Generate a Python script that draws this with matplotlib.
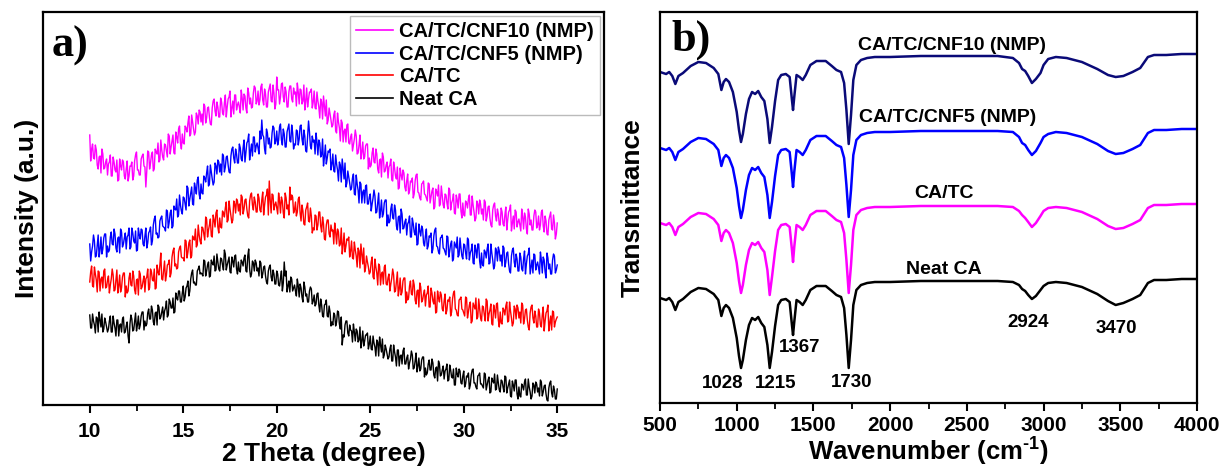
import numpy as np
import matplotlib
matplotlib.use("Agg")
import matplotlib.pyplot as plt

plt.rcParams['font.family'] = ['Liberation Sans', 'DejaVu Sans']
plt.rcParams['font.weight'] = 'bold'
plt.rcParams['mathtext.fontset'] = 'custom'
plt.rcParams['mathtext.rm'] = 'Liberation Sans:bold'
plt.rcParams['mathtext.it'] = 'Liberation Sans:bold'
plt.rcParams['mathtext.bf'] = 'Liberation Sans:bold'
plt.rcParams['mathtext.default'] = 'regular'

# ---------------- XRD data (panel a), 2-theta scan 10-35 deg, step 0.05 ----------------
theta_start, theta_end = 10, 35

xrd_neat = [
    90, 77, 77, 91, 84, 80, 72, 88, 87, 73, 93, 85, 78, 91, 73, 76, 87, 83, 78, 73,
    76, 84, 89, 73, 73, 89, 82, 77, 69, 85, 85, 69, 80, 81, 73, 86, 88, 72, 73, 79,
    83, 69, 62, 81, 90, 86, 74, 75, 84, 92, 74, 80, 89, 76, 80, 89, 93, 93, 75, 84,
    79, 81, 92, 96, 86, 86, 99, 95, 83, 80, 92, 93, 80, 100, 98, 86, 88, 93, 98, 85,
    94, 97, 104, 88, 90, 106, 103, 97, 97, 107, 92, 93, 112, 107, 105, 114, 114, 103, 103, 112,
    119, 104, 108, 117, 119, 124, 109, 114, 126, 132, 135, 122, 123, 120, 120, 134, 136, 139, 131, 132,
    131, 129, 145, 144, 129, 134, 140, 143, 128, 129, 145, 142, 140, 149, 134, 135, 151, 143, 136, 134,
    147, 146, 140, 135, 155, 151, 135, 140, 144, 148, 133, 132, 148, 144, 138, 149, 150, 136, 131, 143,
    134, 133, 145, 143, 139, 147, 150, 134, 133, 149, 156, 136, 128, 131, 144, 142, 134, 145, 142, 134,
    137, 129, 144, 142, 127, 131, 138, 139, 129, 123, 121, 134, 138, 140, 128, 124, 135, 131, 121, 121,
    134, 131, 120, 119, 127, 134, 114, 122, 143, 129, 134, 113, 119, 124, 113, 128, 126, 114, 117, 120,
    114, 109, 126, 119, 108, 121, 117, 108, 103, 123, 118, 109, 111, 103, 103, 114, 118, 116, 101, 104,
    110, 99, 101, 111, 112, 100, 93, 106, 100, 89, 88, 100, 101, 105, 89, 88, 99, 93, 79, 83,
    80, 92, 90, 79, 83, 94, 93, 81, 76, 88, 60, 70, 68, 80, 84, 84, 72, 69, 80, 75,
    74, 63, 81, 73, 64, 76, 74, 63, 65, 78, 57, 64, 74, 59, 64, 70, 70, 72, 56, 61,
    69, 56, 55, 69, 62, 58, 49, 65, 63, 49, 68, 60, 53, 66, 47, 50, 60, 56, 51, 46,
    48, 56, 60, 44, 44, 60, 53, 48, 39, 55, 55, 39, 49, 50, 41, 54, 57, 41, 41, 47,
    50, 36, 42, 46, 54, 50, 36, 37, 44, 52, 33, 39, 47, 34, 36, 45, 48, 48, 28, 37,
    30, 32, 41, 45, 35, 35, 46, 42, 30, 27, 37, 38, 24, 44, 41, 29, 30, 35, 39, 26,
    34, 36, 41, 24, 25, 40, 35, 28, 27, 36, 20, 20, 37, 31, 28, 36, 34, 22, 21, 29,
    34, 18, 21, 29, 28, 32, 16, 20, 30, 35, 36, 22, 22, 18, 16, 29, 30, 32, 21, 21,
    19, 17, 32, 31, 15, 20, 25, 28, 12, 13, 27, 24, 22, 31, 15, 16, 30, 22, 15, 13,
    25, 24, 18, 13, 29, 28, 12, 17, 21, 25, 9, 8, 24, 20, 14, 25, 25, 11, 6, 18,
    9, 8, 21, 19, 15, 23, 26, 10, 10, 26, 18, 13, 6, 9, 22, 20, 12, 23, 21, 13,
    17, 9, 25, 23, 9, 13, 19, 20, 11, 5, 4, 17, 22, 24, 12, 8, 19, 15, 6, 6,
    16]

xrd_catc = [
    123, 133, 139, 119, 118, 138, 131, 125, 113, 134, 133, 114, 126, 128, 117, 134, 136, 117, 118, 125,
    129, 112, 120, 126, 136, 130, 114, 115, 125, 135, 112, 119, 130, 113, 117, 128, 132, 132, 108, 119,
    112, 114, 127, 132, 120, 119, 134, 129, 115, 111, 125, 126, 110, 134, 131, 116, 118, 124, 129, 113,
    126, 128, 136, 115, 117, 136, 133, 125, 124, 136, 116, 117, 140, 133, 130, 140, 152, 126, 125, 135,
    144, 124, 130, 140, 141, 145, 128, 132, 148, 154, 157, 139, 141, 136, 137, 153, 157, 159, 148, 147,
    147, 144, 165, 164, 147, 153, 162, 165, 147, 149, 169, 166, 165, 176, 158, 160, 180, 170, 164, 161,
    178, 177, 171, 165, 188, 186, 168, 175, 180, 186, 169, 168, 190, 185, 178, 192, 195, 178, 172, 187,
    178, 177, 194, 192, 188, 197, 203, 183, 185, 204, 196, 189, 182, 185, 204, 201, 192, 206, 204, 194,
    201, 190, 210, 208, 191, 196, 205, 206, 196, 189, 187, 204, 210, 212, 200, 195, 208, 203, 193, 193,
    211, 207, 195, 193, 205, 213, 190, 200, 208, 210, 216, 190, 224, 205, 192, 211, 210, 195, 200, 203,
    197, 191, 212, 204, 192, 208, 204, 192, 187, 212, 207, 196, 200, 190, 218, 205, 210, 208, 192, 195,
    203, 189, 193, 206, 208, 192, 184, 200, 194, 181, 180, 195, 198, 202, 184, 183, 197, 189, 172, 177,
    175, 190, 189, 175, 180, 193, 193, 179, 173, 188, 181, 166, 165, 180, 185, 185, 171, 168, 180, 174,
    175, 161, 182, 173, 161, 176, 173, 159, 161, 177, 151, 160, 172, 153, 159, 166, 165, 168, 148, 154,
    164, 147, 146, 163, 155, 149, 138, 157, 154, 137, 161, 151, 141, 157, 133, 137, 149, 143, 138, 131,
    133, 143, 148, 128, 126, 146, 138, 132, 120, 141, 139, 120, 131, 133, 121, 138, 140, 121, 120, 127,
    131, 114, 121, 127, 136, 130, 113, 114, 123, 133, 109, 116, 127, 110, 113, 124, 127, 127, 102, 113,
    105, 107, 119, 124, 111, 110, 125, 120, 105, 101, 114, 115, 98, 122, 118, 103, 105, 111, 115, 99,
    110, 112, 119, 98, 98, 117, 112, 104, 101, 113, 92, 93, 114, 107, 103, 113, 110, 96, 94, 104,
    111, 91, 95, 105, 104, 108, 89, 93, 106, 112, 114, 96, 95, 90, 89, 105, 106, 108, 96, 95,
    92, 89, 108, 107, 87, 93, 100, 103, 82, 84, 102, 99, 96, 107, 86, 88, 106, 96, 87, 84,
    99, 98, 90, 84, 106, 104, 84, 91, 95, 101, 81, 80, 100, 95, 87, 101, 102, 85, 78, 93,
    82, 81, 97, 95, 90, 99, 103, 83, 84, 103, 94, 87, 79, 82, 99, 96, 86, 100, 97, 87,
    93, 82, 102, 100, 81, 86, 95, 96, 85, 78, 75, 92, 98, 100, 87, 82, 94, 89, 78, 78,
    96, 92, 80, 78, 90, 98, 74, 84, 92, 94, 100, 74, 82, 89, 75, 94, 93, 78, 83, 86,
    88]

xrd_cnf5 = [
    161, 144, 153, 159, 170, 164, 148, 149, 160, 170, 148, 155, 168, 151, 156, 167, 171, 171, 148, 159,
    153, 155, 168, 173, 161, 160, 176, 171, 157, 153, 167, 168, 152, 176, 173, 158, 161, 167, 172, 156,
    168, 170, 177, 156, 158, 177, 172, 164, 162, 174, 154, 155, 177, 170, 166, 176, 175, 161, 159, 169,
    177, 157, 162, 172, 174, 178, 160, 164, 180, 186, 189, 171, 172, 167, 168, 184, 187, 189, 179, 178,
    177, 174, 195, 194, 177, 183, 192, 195, 177, 179, 199, 196, 195, 206, 188, 190, 210, 200, 194, 191,
    208, 207, 201, 195, 219, 217, 199, 206, 212, 218, 201, 200, 222, 217, 211, 225, 228, 211, 206, 221,
    212, 211, 229, 227, 223, 232, 239, 219, 221, 240, 233, 226, 220, 223, 242, 239, 231, 245, 243, 233,
    241, 230, 251, 249, 233, 238, 248, 249, 240, 233, 232, 249, 256, 258, 247, 242, 256, 251, 242, 242,
    261, 257, 246, 244, 257, 265, 243, 253, 262, 264, 271, 245, 254, 261, 249, 268, 268, 253, 259, 262,
    257, 251, 274, 266, 285, 270, 268, 256, 251, 276, 272, 261, 267, 257, 258, 272, 279, 277, 261, 264,
    274, 260, 265, 278, 281, 265, 260, 276, 271, 258, 258, 273, 277, 281, 264, 263, 280, 272, 256, 261,
    260, 275, 274, 260, 266, 279, 280, 266, 260, 275, 269, 254, 253, 268, 284, 273, 259, 256, 269, 263,
    265, 251, 272, 263, 250, 265, 262, 248, 250, 266, 239, 248, 260, 241, 247, 254, 253, 256, 235, 241,
    251, 234, 233, 250, 241, 235, 224, 243, 240, 223, 246, 236, 226, 242, 218, 222, 234, 228, 222, 215,
    217, 227, 231, 211, 210, 230, 221, 215, 202, 223, 221, 202, 213, 215, 202, 219, 220, 201, 201, 208,
    211, 194, 201, 207, 215, 209, 192, 193, 202, 212, 187, 194, 205, 188, 191, 202, 205, 205, 179, 190,
    182, 184, 196, 201, 187, 186, 200, 195, 179, 175, 188, 189, 172, 196, 191, 176, 177, 183, 186, 170,
    181, 183, 189, 168, 168, 187, 181, 173, 170, 182, 160, 161, 181, 174, 169, 179, 176, 162, 159, 169,
    176, 156, 159, 169, 168, 172, 152, 156, 169, 175, 177, 159, 158, 153, 151, 167, 168, 170, 157, 156,
    153, 150, 169, 168, 148, 154, 161, 164, 144, 146, 163, 160, 157, 168, 148, 150, 167, 157, 149, 146,
    161, 160, 152, 146, 167, 165, 145, 152, 155, 161, 142, 141, 160, 155, 147, 161, 161, 144, 137, 152,
    140, 139, 155, 153, 147, 156, 161, 141, 142, 161, 152, 145, 136, 139, 157, 154, 144, 158, 154, 144,
    150, 139, 159, 157, 138, 143, 152, 153, 141, 134, 132, 149, 155, 157, 143, 138, 151, 146, 134, 134,
    152, 148, 136, 134, 146, 154, 131, 141, 149, 151, 157, 131, 138, 145, 132, 151, 150, 135, 140, 143,
    137, 131, 153, 145, 132, 148, 145, 133, 127, 152, 147, 136, 141, 131, 131, 145, 151, 149, 132, 135,
    140]

xrd_cnf10 = [
    270, 244, 256, 261, 247, 246, 260, 255, 240, 236, 248, 249, 232, 256, 251, 236, 237, 243, 246, 230,
    241, 243, 250, 229, 229, 248, 243, 235, 233, 245, 224, 225, 246, 239, 235, 245, 243, 229, 226, 236,
    244, 224, 229, 239, 239, 243, 225, 229, 244, 250, 253, 235, 235, 230, 230, 246, 249, 251, 239, 238,
    218, 234, 254, 253, 236, 242, 250, 253, 234, 236, 256, 253, 251, 262, 243, 245, 265, 255, 248, 245,
    261, 260, 254, 248, 271, 269, 251, 258, 264, 270, 252, 251, 273, 268, 262, 276, 279, 262, 256, 271,
    262, 261, 279, 277, 273, 282, 289, 269, 271, 290, 283, 276, 270, 273, 292, 289, 281, 295, 293, 283,
    291, 280, 301, 299, 282, 287, 297, 298, 288, 281, 280, 297, 304, 306, 294, 289, 303, 298, 288, 288,
    307, 303, 292, 290, 302, 310, 288, 298, 306, 308, 314, 288, 297, 304, 291, 310, 310, 295, 300, 303,
    298, 292, 315, 307, 295, 311, 309, 297, 292, 317, 312, 301, 307, 297, 298, 312, 319, 317, 301, 304,
    314, 300, 305, 318, 321, 305, 300, 316, 311, 298, 298, 313, 317, 321, 304, 303, 320, 312, 296, 301,
    328, 315, 315, 301, 308, 321, 322, 308, 303, 318, 313, 298, 298, 313, 319, 319, 306, 303, 317, 311,
    313, 299, 322, 313, 301, 316, 315, 301, 304, 320, 295, 304, 317, 298, 306, 313, 313, 316, 297, 303,
    314, 297, 296, 313, 304, 298, 287, 306, 303, 286, 309, 299, 289, 305, 281, 285, 297, 291, 285, 278,
    280, 290, 294, 274, 272, 292, 283, 277, 264, 285, 282, 263, 274, 276, 263, 280, 281, 262, 261, 268,
    271, 254, 260, 266, 275, 269, 251, 252, 260, 270, 246, 253, 263, 246, 248, 259, 261, 261, 236, 247,
    238, 240, 252, 257, 243, 242, 256, 251, 236, 232, 245, 246, 228, 252, 248, 233, 234, 240, 243, 227,
    238, 240, 246, 225, 224, 243, 237, 229, 226, 238, 216, 217, 237, 230, 225, 235, 232, 218, 214, 224,
    231, 211, 214, 224, 223, 227, 207, 211, 224, 230, 231, 213, 212, 207, 205, 221, 222, 224, 211, 210,
    207, 204, 222, 221, 202, 208, 214, 217, 196, 198, 216, 213, 209, 220, 199, 201, 219, 209, 200, 197,
    211, 210, 202, 196, 217, 215, 195, 202, 205, 211, 192, 191, 210, 205, 197, 211, 211, 194, 187, 202,
    190, 189, 204, 202, 197, 206, 210, 190, 190, 209, 200, 193, 184, 187, 204, 201, 191, 205, 201, 191,
    196, 185, 205, 203, 184, 189, 198, 199, 187, 180, 178, 195, 200, 202, 189, 184, 196, 191, 180, 180,
    197, 193, 181, 179, 190, 198, 175, 185, 193, 195, 200, 174, 182, 189, 176, 195, 193, 178, 183, 186,
    180, 174, 196, 188, 176, 192, 188, 176, 171, 196, 191, 180, 185, 175, 175, 189, 195, 193, 177, 180,
    189, 175, 180, 193, 195, 179, 173, 189, 184, 171, 170, 185, 189, 193, 176, 175, 190, 182, 166, 171,
    182]

xrd_labels = ['CA/TC/CNF10 (NMP)', 'CA/TC/CNF5 (NMP)', 'CA/TC', 'Neat CA']
xrd_colors = ['#FF00FF', '#0000FF', '#FF0000', '#000000']

# ---------------- FTIR data (panel b) ----------------
wavenumber = [500, 540, 560, 580, 600, 620, 650, 700, 750, 800, 850, 880, 900, 915,
              930, 950, 975, 1000, 1015, 1028, 1040, 1060, 1080, 1100, 1120, 1140,
              1160, 1180, 1200, 1215, 1230, 1250, 1270, 1290, 1320, 1345, 1360, 1367,
              1375, 1390, 1410, 1430, 1450, 1480, 1520, 1580, 1620, 1650, 1680, 1700,
              1715, 1730, 1745, 1760, 1780, 1810, 1850, 1900, 2000, 2200, 2500, 2700,
              2800, 2840, 2860, 2880, 2900, 2924, 2950, 2980, 3000, 3030, 3080, 3150,
              3250, 3350, 3420, 3470, 3520, 3580, 3630, 3680, 3720, 3800, 3900, 4000]

ftir_neat = [105, 103, 105, 101, 93, 101, 104, 111, 115, 114, 109, 103, 87, 95,
             98, 95, 85, 65, 47, 35, 43, 63, 78, 85, 83, 86,
             80, 76, 58, 35, 51, 77, 98, 103, 104, 101, 78, 68,
             81, 103, 101, 98, 103, 113, 117, 117, 112, 108, 106, 95,
             68, 35, 63, 98, 113, 118, 120, 121, 121, 122, 122, 122,
             121, 118, 114, 112, 108, 104, 107, 113, 117, 120, 121, 120,
             116, 109, 102, 98, 100, 104, 108, 120, 123, 123, 124, 124]

ftir_catc = [180, 178, 180, 176, 168, 176, 179, 186, 190, 189, 184, 178, 162, 170,
             173, 170, 160, 140, 122, 110, 118, 138, 153, 160, 158, 161,
             155, 151, 133, 108, 126, 152, 173, 178, 179, 176, 153, 141,
             156, 178, 176, 173, 178, 188, 192, 192, 187, 183, 181, 170,
             143, 110, 138, 173, 188, 193, 195, 196, 196, 197, 197, 197,
             196, 192, 188, 185, 181, 176, 180, 187, 192, 195, 196, 195,
             191, 184, 177, 174, 175, 179, 183, 195, 198, 198, 199, 199]

ftir_cnf5 = [255, 253, 255, 251, 243, 251, 254, 261, 265, 264, 259, 253, 237, 245,
             248, 245, 235, 215, 197, 185, 193, 213, 228, 235, 233, 236,
             230, 226, 208, 185, 201, 227, 248, 253, 254, 251, 228, 216,
             231, 253, 251, 248, 253, 263, 267, 267, 262, 258, 256, 245,
             218, 186, 213, 248, 263, 268, 270, 271, 271, 272, 272, 272,
             271, 266, 260, 258, 253, 248, 252, 260, 266, 269, 271, 270,
             266, 259, 252, 249, 250, 254, 258, 270, 273, 273, 274, 274]

ftir_cnf10 = [331, 329, 331, 327, 319, 327, 330, 337, 341, 340, 335, 329, 313, 321,
              324, 321, 311, 291, 273, 261, 269, 289, 304, 311, 309, 312,
              306, 302, 284, 260, 276, 302, 323, 328, 329, 326, 303, 293,
              306, 328, 326, 323, 328, 338, 342, 342, 337, 333, 331, 320,
              293, 259, 288, 323, 338, 343, 345, 346, 346, 347, 347, 347,
              345, 340, 334, 332, 327, 320, 324, 330, 338, 344, 346, 345,
              341, 334, 328, 326, 327, 331, 335, 346, 348, 348, 349, 349]

ftir_labels = ['CA/TC/CNF10 (NMP)', 'CA/TC/CNF5 (NMP)', 'CA/TC', 'Neat CA']
ftir_colors = ['#0A0A78', '#0000FF', '#FF00FF', '#000000']
ftir_label_pos = [(2400, 358), (2374, 285), (2348, 210), (2348, 133)]

peak_labels = ['1028', '1215', '1367', '1730', '2924', '3470']
peak_label_pos = [(910, 20), (1255, 20), (1411, 56), (1749, 21), (2901, 81), (3473, 75)]

# ---------------- figure ----------------
W, H = 1229, 469
fig = plt.figure(figsize=(W / 100, H / 100), dpi=100)

def rect(x0, x1, ytop, ybot):
    return [x0 / W, 1 - ybot / H, (x1 - x0) / W, (ybot - ytop) / H]

axa = fig.add_axes(rect(43, 604, 12, 405))
axb = fig.add_axes(rect(660, 1197, 12, 403))

for ax, pad in ((axa, 6), (axb, 3.5)):
    for s in ax.spines.values():
        s.set_linewidth(1.6)
    ax.tick_params(axis='x', which='major', direction='out', length=6, width=1.5,
                   labelsize=15, pad=pad)
    ax.tick_params(axis='x', which='minor', direction='out', length=4, width=1.3)
    ax.set_yticks([])

# panel a
for vals, lab, col in zip([xrd_cnf10, xrd_cnf5, xrd_catc, xrd_neat], xrd_labels, xrd_colors):
    x = np.linspace(theta_start, theta_end, len(vals))
    axa.plot(x, vals, color=col, lw=1.0, label=lab)
axa.set_xlim(7.5, 37.5)
axa.set_ylim(0, 393)
axa.set_xticks([10, 15, 20, 25, 30, 35])
axa.set_xticks(np.arange(12.5, 36, 5), minor=True)
axa.set_xticklabels([str(v) for v in [10, 15, 20, 25, 30, 35]], fontweight='bold')
axa.set_xlabel('2 Theta (degree)', fontsize=19, fontweight='bold', labelpad=1)
axa.set_ylabel('Intensity (a.u.)', fontsize=19, fontweight='bold', labelpad=3)
leg = axa.legend(loc='upper right', fontsize=14.5, frameon=True, fancybox=False,
                 edgecolor='#AAAAAA', borderaxespad=0.2, labelspacing=0.18,
                 handlelength=1.85, handletextpad=0.3, borderpad=0.3)
leg.get_frame().set_linewidth(1.0)
for line in leg.get_lines():
    line.set_linewidth(1.2)
for t in leg.get_texts():
    t.set_fontweight('bold')
axa.text(0.016, 0.915, 'a)', transform=axa.transAxes, fontsize=32, fontweight='bold',
         family='Liberation Serif', va='center', ha='left')

# panel b
for vals, lab, col in zip([ftir_cnf10, ftir_cnf5, ftir_catc, ftir_neat], ftir_labels, ftir_colors):
    axb.plot(wavenumber, vals, color=col, lw=1.8)
for lab, (x, y) in zip(ftir_labels, ftir_label_pos):
    axb.text(x, y, lab, fontsize=14, fontweight='bold', ha='center', va='center')
for lab, (x, y) in zip(peak_labels, peak_label_pos):
    axb.text(x, y, lab, fontsize=13.5, fontweight='bold', ha='center', va='center')
axb.set_xlim(500, 4000)
axb.set_ylim(0, 391)
axb.set_xticks(np.arange(500, 4001, 500))
axb.set_xticks(np.arange(750, 4000, 500), minor=True)
axb.set_xticklabels([str(v) for v in range(500, 4001, 500)], fontweight='bold')
axb.set_xlabel(r'Wavenumber (cm$^{\text{-1}}$)', fontsize=18.5, fontweight='bold', labelpad=0.5)
axb.set_ylabel('Transmittance', fontsize=19, fontweight='bold', labelpad=11)
axb.text(0.022, 0.93, 'b)', transform=axb.transAxes, fontsize=32, fontweight='bold',
         family='Liberation Serif', va='center', ha='left')

fig.savefig('out.png', dpi=100)
